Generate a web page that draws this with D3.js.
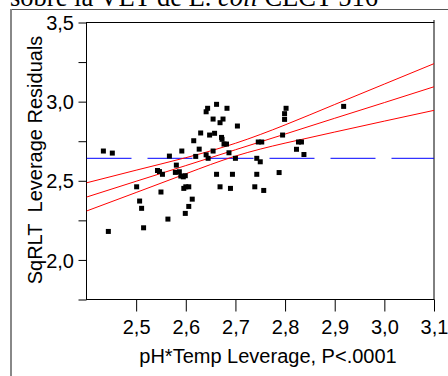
<!DOCTYPE html>
<html lang="es">
<head>
    <meta charset="UTF-8">
    <title>Leverage plot pH*Temp</title>
    <style>
        body { margin: 0; background: #fff; }
        svg { display: block; }
        text { font-family: "Liberation Sans", Arial, sans-serif; fill: #000; }
    </style>
    <script src="https://cdn.jsdelivr.net/npm/d3@7"></script>
</head>
<body>
    <script>
        // puntos (x = pH*Temp leverage, y = SqRLT leverage residuals)
        const ptX = [2.434, 2.452, 2.444, 2.501, 2.507, 2.511, 2.515, 2.543, 2.547, 2.553,
                     2.550, 2.564, 2.567, 2.592, 2.581, 2.579, 2.587, 2.590, 2.595, 2.599,
                     2.596, 2.600, 2.606, 2.613, 2.606, 2.599, 2.616, 2.620, 2.662, 2.644,
                     2.641, 2.683, 2.655, 2.675, 2.669, 2.704, 2.630, 2.648, 2.658, 2.672,
                     2.673, 2.677, 2.682, 2.627, 2.641, 2.645, 2.655, 2.687, 2.700, 2.662,
                     2.694, 2.669, 2.690, 2.746, 2.753, 2.743, 2.750, 2.743, 2.739, 2.757,
                     2.788, 2.802, 2.799, 2.799, 2.795, 2.827, 2.833, 2.823, 2.838, 2.918]
        const ptY = [2.688, 2.675, 2.180, 2.462, 2.372, 2.326, 2.203, 2.565, 2.558, 2.541,
                     2.429, 2.258, 2.656, 2.688, 2.599, 2.553, 2.557, 2.530, 2.525, 2.532,
                     2.452, 2.462, 2.462, 2.384, 2.338, 2.294, 2.753, 2.654, 2.983, 2.958,
                     2.936, 2.958, 2.890, 2.890, 2.867, 2.846, 2.802, 2.789, 2.800, 2.774,
                     2.762, 2.732, 2.732, 2.700, 2.664, 2.642, 2.688, 2.677, 2.642, 2.541,
                     2.541, 2.462, 2.452, 2.745, 2.745, 2.642, 2.620, 2.541, 2.462, 2.439,
                     2.552, 2.958, 2.924, 2.888, 2.789, 2.745, 2.745, 2.699, 2.666, 2.970]

        // recta de ajuste y bandas de confianza
        const fitX     = [2.4, 2.5, 2.6, 2.7, 2.8, 2.9, 3.0, 3.1]
        const fitMid   = [2.397, 2.497, 2.596, 2.696, 2.795, 2.895, 2.994, 3.094]
        const fitUpper = [2.487, 2.567, 2.646, 2.737, 2.853, 2.982, 3.111, 3.240]
        const fitLower = [2.309, 2.426, 2.544, 2.656, 2.738, 2.808, 2.877, 2.945]
        const meanY = 2.642

        const xTicks = [2.5, 2.6, 2.7, 2.8, 2.9, 3.0, 3.1]
        const yTicks = [1.75, 2.0, 2.25, 2.5, 2.75, 3.0, 3.25, 3.5]
        const yLabeled = [2.0, 2.5, 3.0, 3.5]

        const width = 448
        const height = 376
        const plot = { left: 86.5, right: 434, top: 22.5, bottom: 299.5 }

        const svg = d3.select('body').append('svg').attr('width', width).attr('height', height)

        // titulo cortado arriba
        const title = svg.append('text')
            .attr('x', 10).attr('y', 6)
            .style('font-family', '"Liberation Serif", "Times New Roman", serif')
            .style('font-size', '26.5px')
        title.append('tspan').text('sobre la VET de E. ')
        title.append('tspan').style('font-style', 'italic').text('coli')
        title.append('tspan').text(' CECT 516')

        // marco exterior (arriba y a la izquierda)
        svg.append('rect').attr('x', 10).attr('y', 9).attr('width', width - 10).attr('height', 1)
            .attr('fill', '#555')
        svg.append('rect').attr('x', 10).attr('y', 9).attr('width', 2).attr('height', height - 9)
            .attr('fill', '#888')

        const x = d3.scaleLinear().domain([2.4, 3.1]).range([plot.left, plot.right])
        const y = d3.scaleLinear().domain([1.75, 3.5]).range([plot.bottom, plot.top])

        const fmt = d => d.toFixed(1).replace('.', ',')

        const yAxis = d3.axisLeft(y).tickValues(yTicks).tickSize(8).tickPadding(4)
            .tickFormat(d => yLabeled.includes(d) ? fmt(d) : '')
        const xAxis = d3.axisBottom(x).tickValues(xTicks).tickSize(12).tickFormat(fmt)

        const gy = svg.append('g').attr('transform', `translate(${plot.left},0)`).call(yAxis)
        const gx = svg.append('g').attr('transform', `translate(0,${plot.bottom})`).call(xAxis)
        gy.select('.domain').remove()
        gx.select('.domain').remove()
        gy.selectAll('text').style('font-size', '20px').attr('x', -12.5).attr('dy', '0.36em')
        gx.selectAll('text').style('font-size', '20px').attr('y', 34).attr('dy', 0)
        svg.selectAll('.tick line').attr('stroke', '#000')

        // marco del grafico
        svg.append('rect')
            .attr('x', plot.left).attr('y', plot.top)
            .attr('width', plot.right - plot.left).attr('height', plot.bottom - plot.top)
            .attr('fill', 'none').attr('stroke', '#000')
        svg.append('line').attr('x1', plot.right).attr('x2', plot.right)
            .attr('y1', 20).attr('y2', plot.top).attr('stroke', '#000')

        svg.append('clipPath').attr('id', 'clip').append('rect')
            .attr('x', plot.left).attr('y', plot.top)
            .attr('width', plot.right - plot.left).attr('height', plot.bottom - plot.top)

        const g = svg.append('g').attr('clip-path', 'url(#clip)')

        // linea media horizontal discontinua
        g.append('line')
            .attr('x1', x(2.4)).attr('x2', x(3.1))
            .attr('y1', y(meanY)).attr('y2', y(meanY))
            .attr('stroke', '#0000ff').attr('stroke-width', 1)
            .attr('stroke-dasharray', '45,16')

        const line = d3.line().curve(d3.curveNatural)
        ;[fitUpper, fitMid, fitLower].forEach(arr => {
            g.append('path')
                .attr('d', line(fitX.map((d, i) => [x(d), y(arr[i])])))
                .attr('fill', 'none').attr('stroke', '#ff0000').attr('stroke-width', 1)
        })

        g.selectAll('rect.pt')
            .data(ptX)
            .enter()
            .append('rect')
            .attr('class', 'pt')
            .attr('x', (d, i) => x(d) - 2.5)
            .attr('y', (d, i) => y(ptY[i]) - 2.5)
            .attr('width', 5).attr('height', 5)
            .attr('fill', '#000')

        // titulos de ejes
        svg.append('text')
            .attr('x', 268).attr('y', 362.5)
            .attr('text-anchor', 'middle')
            .style('font-size', '20px')
            .text('pH*Temp Leverage, P<.0001')

        svg.append('text')
            .attr('transform', 'translate(42,160) rotate(-90)')
            .attr('text-anchor', 'middle')
            .style('font-size', '20px')
            .text('SqRLT\u00a0 Leverage Residuals')
    </script>
</body>
</html>
